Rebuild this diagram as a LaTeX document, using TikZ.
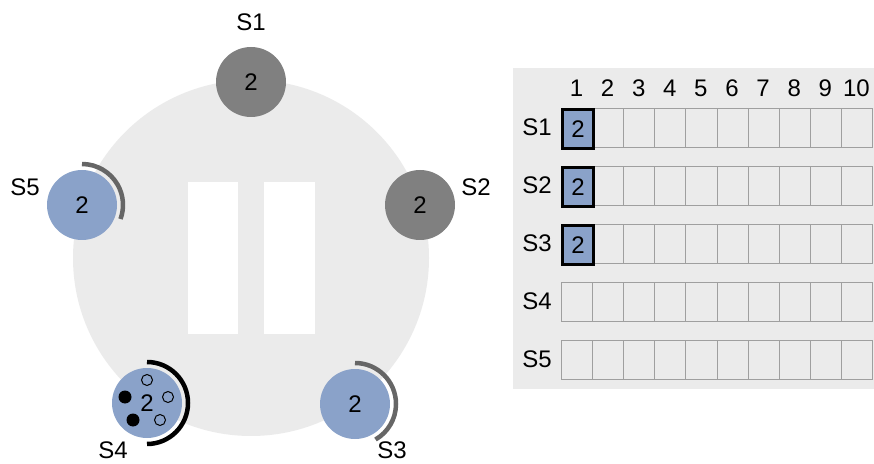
\documentclass[tikz,border=0pt]{standalone}
\usepackage{fontspec}
\setmainfont{Liberation Sans}
\definecolor{slotgray}{HTML}{808080}
\definecolor{slotblue}{HTML}{8AA2C9}
\definecolor{ringgray}{HTML}{EBEBEB}
\definecolor{arcgray}{HTML}{666666}

\begin{document}
\begin{tikzpicture}[x=1pt,y=1pt,
  site/.style={circle,minimum size=70pt,inner sep=0pt,font=\fontsize{24}{27}\selectfont},
  lbl/.style={inner sep=0pt,font=\fontsize{24}{27}\selectfont},
  cell/.style={draw=gray!75,line width=1pt,minimum width=31.1pt,minimum height=39pt,
    inner sep=0pt,anchor=north west,font=\fontsize{24}{27}\selectfont},
  lockarc/.style={draw=arcgray,line width=4.5pt},
  held/.style={cell,fill=slotblue,draw=black,line width=3pt}]
\useasboundingbox (0,0) rectangle (874,463);
% ring and pause sign
\fill[ringgray] (251,205) circle (178);
\fill[white] (188,129) rectangle (238,281);
\fill[white] (264,129) rectangle (315,281);
% sites
\node[site,fill=slotgray] (s1) at (251,381) {2};
\node[site,fill=slotgray] (s2) at (420,258) {2};
\node[site,fill=slotblue] (s3) at (355,59) {2};
\node[site,fill=slotblue] (s4) at (147,60) {2};
\node[site,fill=slotblue] (s5) at (82,258) {2};
\node[lbl] (l1) at (251,441) {S1};
\node[lbl] (l2) at (476,276) {S2};
\node[lbl] (l3) at (392,13) {S3};
\node[lbl] (l4) at (113,13) {S4};
\node[lbl] (l5) at (25,276) {S5};
% arcs
\draw[lockarc] ([shift={(90:41)}]s5.center) arc (90:-20:41);
\draw[lockarc] ([shift={(90:41)}]s3.center) arc (90:-60:41);
\draw[lockarc,draw=black] ([shift={(90:41)}]s4.center) arc (90:-90:41);
% tokens in S4
\draw[line width=1pt] (147,83) circle (5.5);
\draw[line width=1pt] (168,66) circle (5.5);
\draw[line width=1pt] (160,43) circle (5.5);
\fill (125,66) circle (6.5);
\fill (133,43) circle (6.5);
% table
\fill[ringgray] (513,74) rectangle (874,395);
\foreach \c in {1,...,10}
  \node[lbl] (h\c) at ({576.5+31.1*(\c-1)},375) {\c};
\foreach \r in {1,...,5} {
  \node[lbl] (r\r) at (537,{335.5-58*(\r-1)}) {S\r};
  \foreach \c in {1,...,10}
    \node[cell] (c\r-\c) at ({561+31.1*(\c-1)},{355-58*(\r-1)}) {};
}
\foreach \r in {1,2,3}
  \node[held] (b\r) at (561,{355-58*(\r-1)}) {2};
\end{tikzpicture}
\end{document}
